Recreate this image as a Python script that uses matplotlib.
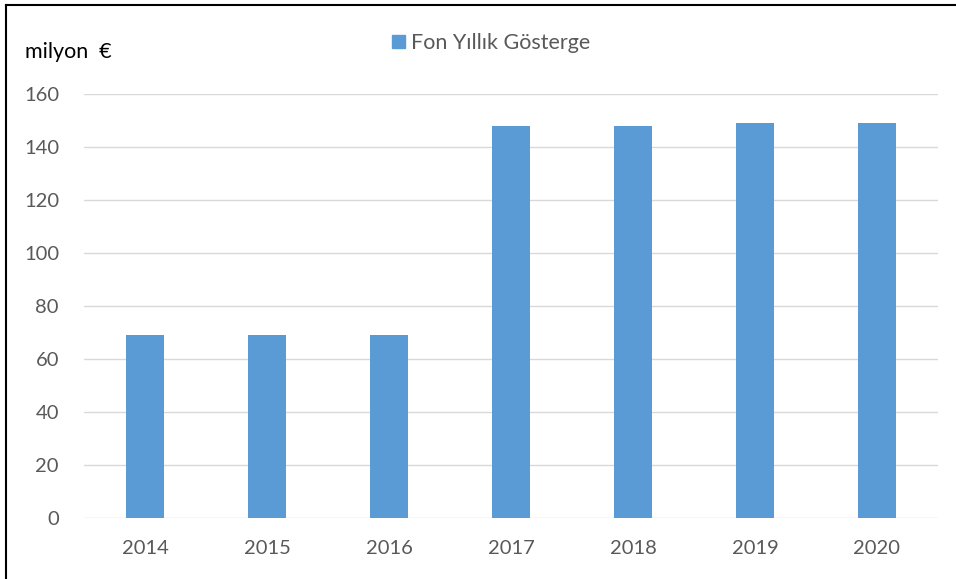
import matplotlib
matplotlib.use('Agg')
import matplotlib.pyplot as plt
from matplotlib.lines import Line2D
from matplotlib.patches import Patch

# Data
years = ['2014', '2015', '2016', '2017', '2018', '2019', '2020']
values = [69, 69, 69, 148, 148, 149, 149]
series_name = 'Fon Yıllık Gösterge'

plt.rcParams['font.family'] = ['Lato', 'DejaVu Sans']

W, H = 956, 579
fig = plt.figure(figsize=(W / 100, H / 100), dpi=100)
ax = fig.add_axes([84 / W, 1 - 518 / H, 854 / W, 424 / H])

x = range(len(years))
ax.bar(x, values, width=0.31, color='#5b9bd5', zorder=3)

ax.set_xlim(-0.5, len(years) - 0.5)
ax.set_ylim(0, 160)
ax.set_yticks(range(0, 161, 20))
ax.set_xticks(list(x))
ax.set_xticklabels(years)
ax.grid(axis='y', color='#d9d9d9', linewidth=1, zorder=0)
for s in ax.spines.values():
    s.set_visible(False)
ax.tick_params(length=0, colors='#595959', labelsize=14.5)
ax.tick_params(axis='x', pad=16)
ax.tick_params(axis='y', pad=18)

fig.text(25 / W, 1 - 52 / H, 'milyon  €', fontsize=15.5, color='black', va='center')

ax.legend(handles=[Patch(color='#5b9bd5', label=series_name)],
          loc='center', bbox_to_anchor=(491 / W, 1 - 43 / H),
          bbox_transform=fig.transFigure, frameon=False, fontsize=15.5,
          handlelength=0.6, handleheight=0.6, handletextpad=0.3,
          labelcolor='#595959')

# frame: top and left edges only
fig.add_artist(Line2D([6 / W, 1], [1 - 4.5 / H, 1 - 4.5 / H], transform=fig.transFigure,
                      color='black', linewidth=1.5))
fig.add_artist(Line2D([6 / W, 6 / W], [0, 1 - 4.5 / H], transform=fig.transFigure,
                      color='black', linewidth=1.5))

fig.savefig('out.png', dpi=100)
